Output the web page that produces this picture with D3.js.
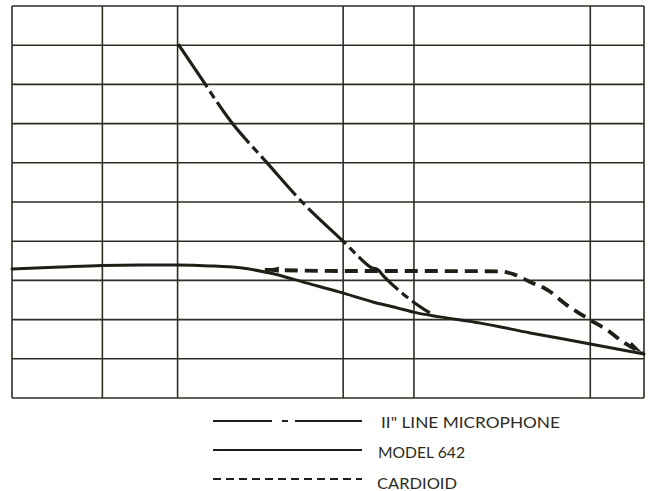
<!DOCTYPE html>
<html>
<head>
<meta charset="utf-8">
<script src="https://cdn.jsdelivr.net/npm/d3@7"></script>
<style>
  html, body { margin: 0; padding: 0; background: #fff; }
  svg { display: block; }
</style>
</head>
<body>
<svg id="chart" width="654" height="491"></svg>
<script>
// Grid divisions (arbitrary units, chart is unlabelled)
const xGrid = [0, 14.3, 26.2, 52.4, 63.6, 91.5, 100];
const yGrid = [0, 1, 2, 3, 4, 5, 6, 7, 8, 9, 10];

// 11" line microphone
const lineMicX = [26.3, 29.8, 34.7, 40.4, 46.2, 52.2, 56.7, 57.9, 58.9, 61.1, 63.5, 66.1];
const lineMicY = [9.03, 8.19, 7.04, 5.99, 4.95, 4.03, 3.34, 3.27, 3.09, 2.76, 2.45, 2.17];

// Model 642
const model642X = [0, 7.6, 14.2, 20.3, 26.1, 31.3, 36.1, 40.8, 46.7, 51.9, 57.1, 60.9, 63.5, 67.7, 74.1, 82.0, 91.5, 100];
const model642Y = [3.29, 3.34, 3.38, 3.39, 3.39, 3.37, 3.32, 3.19, 2.93, 2.70, 2.45, 2.30, 2.19, 2.07, 1.91, 1.66, 1.38, 1.12];

// Cardioid
const cardioidX = [40.0, 52.5, 64.1, 77.2, 79.3, 82.0, 84.7, 87.8, 91.5, 94.2, 96.7, 99.8];
const cardioidY = [3.27, 3.24, 3.24, 3.23, 3.16, 2.96, 2.76, 2.37, 1.99, 1.73, 1.43, 1.15];

const legendLabels = ['II" LINE MICROPHONE', 'MODEL 642', 'CARDIOID'];

const ink = "#1f1f18";
const svg = d3.select("#chart");

const x = d3.scaleLinear().domain([0, 100]).range([12, 644]);
const y = d3.scaleLinear().domain([0, 10]).range([398, 6]);

// grid
const grid = svg.append("g").attr("stroke", "#2e2e25").attr("stroke-width", 1.6).attr("fill", "none");
grid.selectAll("line.v").data(xGrid).join("line")
  .attr("x1", d => x(d)).attr("x2", d => x(d))
  .attr("y1", y(0)).attr("y2", y(10));
grid.selectAll("line.h").data(yGrid).join("line")
  .attr("y1", d => y(d)).attr("y2", d => y(d))
  .attr("x1", x(0)).attr("x2", x(100));

const zip = (xs, ys) => xs.map((v, i) => [v, ys[i]]);
const lineGen = d3.line().x(d => x(d[0])).y(d => y(d[1]));

// Model 642 (solid)
svg.append("path")
  .datum(zip(model642X, model642Y))
  .attr("d", lineGen.curve(d3.curveMonotoneX))
  .attr("fill", "none").attr("stroke", ink).attr("stroke-width", 3)
  .attr("stroke-linecap", "round");

// Cardioid (dashed)
svg.append("path")
  .datum(zip(cardioidX, cardioidY))
  .attr("d", lineGen.curve(d3.curveMonotoneX))
  .attr("fill", "none").attr("stroke", ink).attr("stroke-width", 3.8)
  .attr("stroke-dasharray", "13,7");

// cardioid start/end heads
const c0 = [x(cardioidX[0]), y(cardioidY[0])];
svg.append("path")
  .attr("d", `M${c0[0]},${c0[1]} L${c0[0] + 14},${c0[1] - 3} L${c0[0] + 14},${c0[1] + 3} Z`)
  .attr("fill", ink);
const cn = [x(cardioidX[cardioidX.length - 1]), y(cardioidY[cardioidY.length - 1])];
svg.append("path")
  .attr("d", `M${cn[0]},${cn[1]} L${cn[0] - 11},${cn[1] - 11} L${cn[0] - 14},${cn[1] - 6} Z`)
  .attr("fill", ink);

// 11" line microphone (long dash - short dash)
svg.append("path")
  .datum(zip(lineMicX, lineMicY))
  .attr("d", lineGen.curve(d3.curveCatmullRom))
  .attr("fill", "none").attr("stroke", ink).attr("stroke-width", 3.2)
  .attr("stroke-dasharray", "52,5,8,5");

// legend
const legendY = [421, 450, 479];
const textBase = [428, 458, 489];
const textX = [381, 378, 377];
const textW = [179, 87, 80];
const dashes = ["59,10,6,7,80", null, "8,5"];
const lg = svg.append("g");
legendLabels.forEach((lab, i) => {
  lg.append("line")
    .attr("x1", 213).attr("x2", 362)
    .attr("y1", legendY[i]).attr("y2", legendY[i])
    .attr("stroke", ink).attr("stroke-width", 2)
    .attr("stroke-dasharray", dashes[i]);
  lg.append("text")
    .attr("x", textX[i]).attr("y", textBase[i])
    .attr("font-family", "Lato, 'Open Sans', sans-serif")
    .attr("font-size", 15)
    .attr("fill", "#2b2b22")
    .attr("textLength", textW[i])
    .attr("lengthAdjust", "spacingAndGlyphs")
    .text(lab);
});
</script>
</body>
</html>
